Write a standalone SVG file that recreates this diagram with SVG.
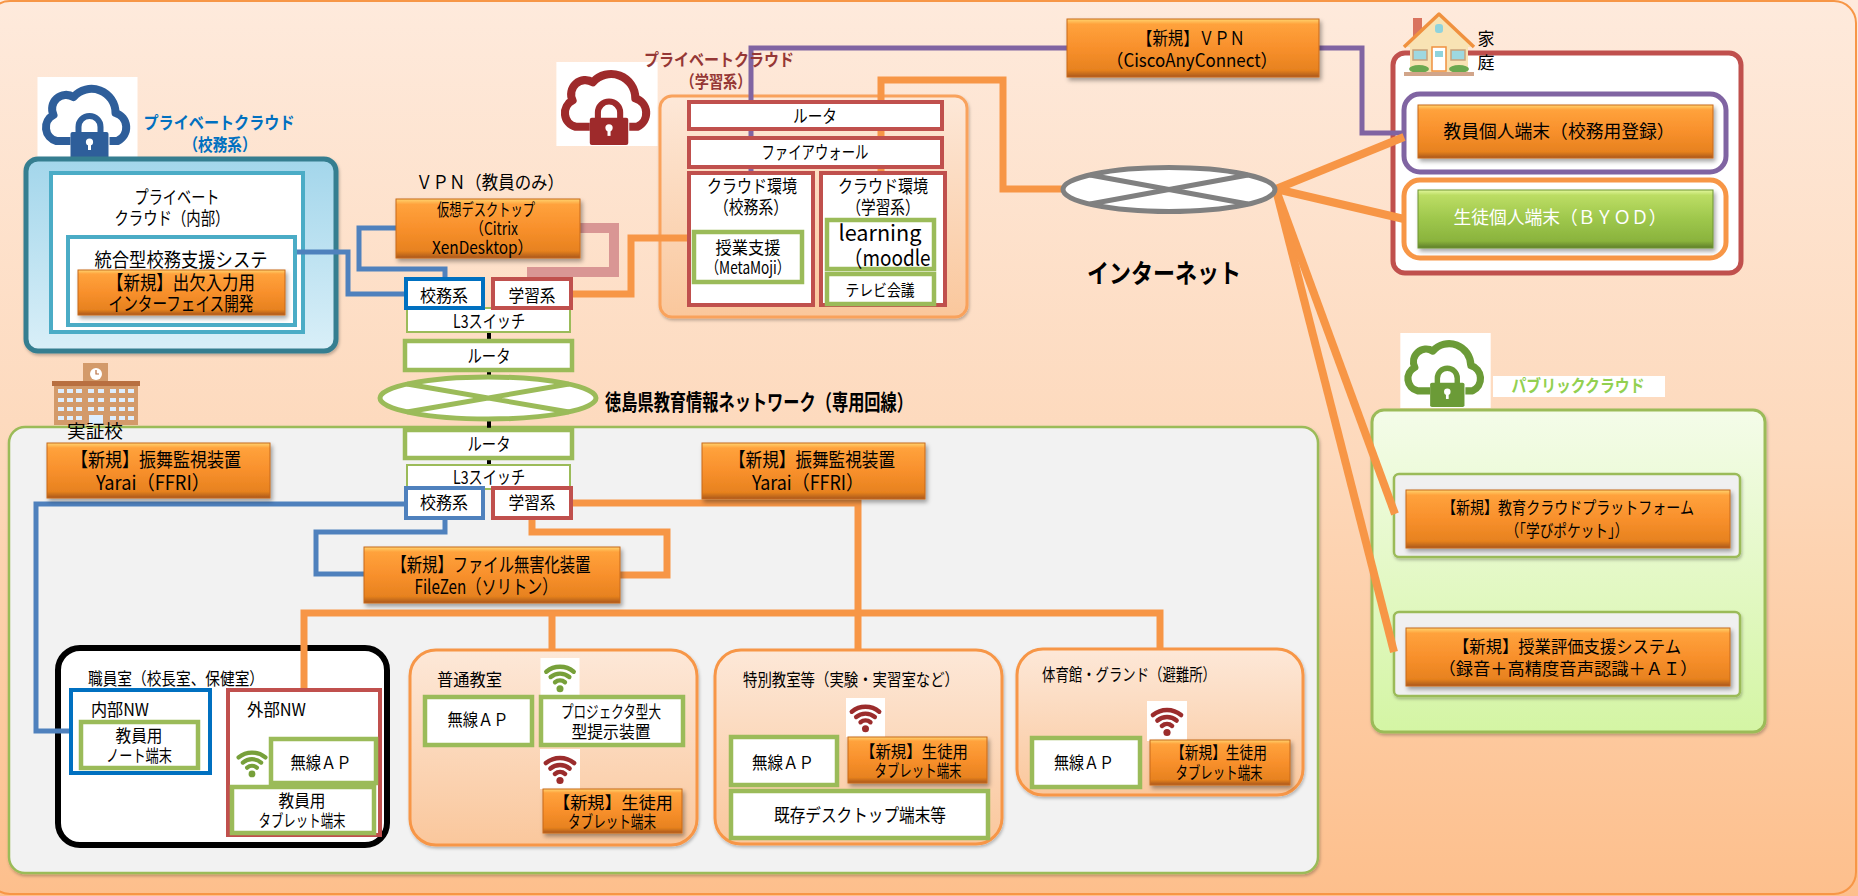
<svg xmlns="http://www.w3.org/2000/svg" width="1858" height="896" viewBox="0 0 1858 896">
<defs>
  <linearGradient id="gBg" x1="0" y1="0" x2="0" y2="1">
    <stop offset="0" stop-color="#FEEADC"/>
    <stop offset="0.5" stop-color="#FDD9BC"/>
    <stop offset="1" stop-color="#FDBF8C"/>
  </linearGradient>
  <linearGradient id="gOrange" x1="0" y1="0" x2="0" y2="1">
    <stop offset="0" stop-color="#FFD470"/>
    <stop offset="0.09" stop-color="#FFA23C"/>
    <stop offset="0.5" stop-color="#F8902C"/>
    <stop offset="0.88" stop-color="#E7821F"/>
    <stop offset="1" stop-color="#A9581D"/>
  </linearGradient>
  <linearGradient id="gGreen" x1="0" y1="0" x2="0" y2="1">
    <stop offset="0" stop-color="#E2F79C"/>
    <stop offset="0.09" stop-color="#BCDD64"/>
    <stop offset="0.5" stop-color="#9EC74C"/>
    <stop offset="0.88" stop-color="#8AB33D"/>
    <stop offset="1" stop-color="#5E7F2A"/>
  </linearGradient>
  <linearGradient id="gTeal" x1="0" y1="0" x2="0" y2="1">
    <stop offset="0" stop-color="#A3D6EB"/>
    <stop offset="1" stop-color="#D9EFF8"/>
  </linearGradient>
  <linearGradient id="gPeach" x1="0" y1="0" x2="0" y2="1">
    <stop offset="0" stop-color="#FDE8D8"/>
    <stop offset="1" stop-color="#FAC79C"/>
  </linearGradient>
  <linearGradient id="gPub" x1="0" y1="0" x2="0" y2="1">
    <stop offset="0" stop-color="#F4FCE9"/>
    <stop offset="1" stop-color="#D4F5A4"/>
  </linearGradient>
  <filter id="sh" x="-10%" y="-10%" width="125%" height="135%">
    <feDropShadow dx="2" dy="3" stdDeviation="2" flood-color="#000" flood-opacity="0.35"/>
  </filter>
  <filter id="shs" x="-10%" y="-10%" width="125%" height="135%">
    <feDropShadow dx="1" dy="2" stdDeviation="1.5" flood-color="#000" flood-opacity="0.25"/>
  </filter>
  <!-- cloud with padlock, coloured through currentColor -->
  <symbol id="cloudLock" viewBox="0 0 100 83">
    <rect width="100" height="83" fill="#fff"/>
    <path d="M33 64 H19 A14 14 0 0 1 16 38 A14 14 0 0 1 36 20 A24 24 0 0 1 78 36 A15 15 0 0 1 80 64 H72" fill="none" stroke="currentColor" stroke-width="8" stroke-linejoin="round"/>
    <path d="M41 57 V50 A11 11 0 0 1 63 50 V57" fill="none" stroke="currentColor" stroke-width="6"/>
    <rect x="33" y="55" width="38" height="27" rx="2" fill="currentColor"/>
    <circle cx="52" cy="65" r="3.6" fill="#fff"/>
    <rect x="50.5" y="65" width="3" height="8" fill="#fff"/>
  </symbol>
  <!-- wireless signal mark -->
  <symbol id="wifi" viewBox="0 0 40 40">
    <rect width="40" height="40" fill="#fff"/>
    <g fill="none" stroke="currentColor" stroke-width="4.5" stroke-linecap="round">
      <path d="M5.9 14.1 A22 22 0 0 1 34.1 14.1"/>
      <path d="M10.4 19.5 A15 15 0 0 1 29.6 19.5"/>
      <path d="M14.9 24.9 A8 8 0 0 1 25.1 24.9"/>
    </g>
    <circle cx="20" cy="31.5" r="3.6" fill="currentColor"/>
  </symbol>
</defs>
<style>
  text { font-family: "Noto Sans CJK JP", "Liberation Sans", sans-serif; fill: #000; font-size: 17px; }
  .m { text-anchor: middle; }
  .f17 { font-size: 18px; }
  .f18 { font-size: 19.5px; }
  .b { font-weight: bold; }
  .ob { fill: url(#gOrange); stroke: #C8691C; stroke-width: 1; filter: url(#sh); }
  .grb { fill: url(#gGreen); stroke: #6E9433; stroke-width: 1; filter: url(#sh); }
  .gb { fill: #fff; stroke: #9BBB59; stroke-width: 4.5; }
  .gt { fill: #fff; stroke: #9BBB59; stroke-width: 2; }
  .rb { fill: #fff; stroke: #C0504D; stroke-width: 4; }
  .bb { fill: #fff; stroke: #0070C0; stroke-width: 4; }
  .bl { fill: #fff; stroke: #4F81BD; stroke-width: 4; }
  .room { fill: url(#gPeach); stroke: #F79646; stroke-width: 3; filter: url(#shs); }
  .ln { fill: none; stroke-linejoin: miter; }
  .lb { stroke: #4F81BD; stroke-width: 5; }
  .lo { stroke: #F79646; stroke-width: 7; }
  .lp { stroke: #8064A2; stroke-width: 5; }
  .lk { stroke: #000; stroke-width: 4; }
</style>

<!-- page background -->
<rect x="0" y="0" width="1858" height="896" fill="url(#gBg)"/>
<rect x="-12" y="1" width="1868" height="893" rx="22" fill="none" stroke="#F79646" stroke-width="2"/>

<!-- containers -->
<g id="school-cloud">
  <use href="#cloudLock" x="37" y="77" width="101" height="83" color="#2E5E9A"/>
  <text class="m b" x="219" y="129" style="fill:#0070C0" textLength="151" lengthAdjust="spacingAndGlyphs">プライベートクラウド</text>
  <text class="m b" x="220" y="151" style="fill:#0070C0" textLength="73" lengthAdjust="spacingAndGlyphs">（校務系）</text>
  <rect x="26" y="159" width="310" height="192" rx="12" fill="url(#gTeal)" stroke="#367E90" stroke-width="5" filter="url(#shs)"/>
  <rect x="51" y="173" width="252" height="159" fill="#fff" stroke="#4BACC6" stroke-width="4"/>
  <text class="m f17" x="177" y="204" textLength="85" lengthAdjust="spacingAndGlyphs">プライベート</text>
  <text class="m f17" x="172" y="225" textLength="115" lengthAdjust="spacingAndGlyphs">クラウド（内部）</text>
</g>
<g id="learning-cloud">
  <use href="#cloudLock" x="556" y="62" width="102" height="84" color="#9E2A2B"/>
  <rect x="660" y="96" width="307" height="221" rx="12" fill="url(#gPeach)" stroke="#F9A25C" stroke-width="3" filter="url(#shs)"/>
</g>
<g id="public-cloud">
  <use href="#cloudLock" x="1399" y="333" width="93" height="75" color="#6B9B37"/>
  <rect x="1493" y="376" width="172" height="21" fill="#fff"/>
  <text class="m b" x="1578" y="392" style="fill:#92D050" textLength="133" lengthAdjust="spacingAndGlyphs">パブリッククラウド</text>
  <rect x="1372" y="410" width="393" height="322" rx="12" fill="url(#gPub)" stroke="#9BBB59" stroke-width="3" filter="url(#shs)"/>
  <rect x="1394" y="474" width="346" height="83" rx="5" fill="#F0F0F0" stroke="#9BBB59" stroke-width="2.5" filter="url(#shs)"/>
  <rect x="1394" y="612" width="346" height="84" rx="5" fill="#F0F0F0" stroke="#9BBB59" stroke-width="2.5" filter="url(#shs)"/>
</g>
<g id="home">
  <rect x="1393" y="53" width="348" height="220" rx="12" fill="#fff" stroke="#C0504D" stroke-width="5"/>
  <rect x="1404" y="94" width="322" height="78" rx="16" fill="#fff" stroke="#8064A2" stroke-width="5"/>
  <rect x="1404" y="180" width="322" height="78" rx="16" fill="#fff" stroke="#F79646" stroke-width="5"/>
  <!-- house -->
  <rect x="1413" y="18" width="9" height="24" fill="#D9735E"/>
  <rect x="1410" y="44" width="58" height="28" fill="#F8E3B4"/>
  <path d="M1404 47 L1439 14 L1474 47" fill="#F8E3B4" stroke="#F0913F" stroke-width="3.5" stroke-linejoin="round"/>
  <rect x="1435" y="24" width="8" height="9" rx="3" fill="#8FD3DC"/>
  <rect x="1413" y="50" width="14" height="10" fill="#9ED8E0" stroke="#C9A27A" stroke-width="1.5"/>
  <rect x="1451" y="50" width="14" height="10" fill="#9ED8E0" stroke="#C9A27A" stroke-width="1.5"/>
  <rect x="1432" y="47" width="14" height="24" fill="#fff" stroke="#F0913F" stroke-width="1.5"/>
  <rect x="1435" y="51" width="8" height="6" fill="#8FD3DC"/>
  <ellipse cx="1419" cy="69" rx="10" ry="4" fill="#6AA84F"/>
  <ellipse cx="1459" cy="69" rx="10" ry="4" fill="#6AA84F"/>
  <rect x="1404" y="72" width="70" height="4" fill="#D1A58A"/>
  <text x="1486" y="45" class="m">家</text>
  <text x="1486" y="69" class="m">庭</text>
</g>
<g id="school">
  <!-- building -->
  <rect x="83" y="363" width="25" height="21" fill="#D39A6A"/>
  <circle cx="96" cy="374" r="6" fill="#fff"/>
  <path d="M96 370 V374 H99" stroke="#B86F40" stroke-width="1.2" fill="none"/>
  <rect x="52" y="381" width="88" height="5" fill="#B86F40"/>
  <rect x="54" y="386" width="84" height="39" fill="#D39A6A"/>
  <g fill="#DDEEFF">
    <rect x="58" y="389" width="6" height="4"/><rect x="67" y="389" width="6" height="4"/><rect x="76" y="389" width="6" height="4"/>
    <rect x="88" y="389" width="6" height="4"/><rect x="98" y="389" width="6" height="4"/>
    <rect x="110" y="389" width="6" height="4"/><rect x="119" y="389" width="6" height="4"/><rect x="128" y="389" width="6" height="4"/>
    <rect x="58" y="398" width="6" height="4"/><rect x="67" y="398" width="6" height="4"/><rect x="76" y="398" width="6" height="4"/>
    <rect x="88" y="398" width="6" height="4"/><rect x="98" y="398" width="6" height="4"/>
    <rect x="110" y="398" width="6" height="4"/><rect x="119" y="398" width="6" height="4"/><rect x="128" y="398" width="6" height="4"/>
    <rect x="58" y="407" width="6" height="4"/><rect x="67" y="407" width="6" height="4"/><rect x="76" y="407" width="6" height="4"/>
    <rect x="88" y="407" width="6" height="4"/><rect x="98" y="407" width="6" height="4"/>
    <rect x="110" y="407" width="6" height="4"/><rect x="119" y="407" width="6" height="4"/><rect x="128" y="407" width="6" height="4"/>
    <rect x="58" y="416" width="6" height="4"/><rect x="67" y="416" width="6" height="4"/><rect x="76" y="416" width="6" height="4"/>
    <rect x="110" y="416" width="6" height="4"/><rect x="119" y="416" width="6" height="4"/><rect x="128" y="416" width="6" height="4"/>
    <rect x="89" y="415" width="14" height="10"/>
  </g>
  <rect x="9" y="427" width="1309" height="446" rx="16" fill="#F2F2F2" stroke="#9BBB59" stroke-width="2.5" filter="url(#shs)"/>
  <text class="m f17" x="95" y="438" textLength="56" lengthAdjust="spacingAndGlyphs">実証校</text>
</g>
<g id="staff-room">
  <rect x="58" y="648" width="329" height="197" rx="22" fill="#fff" stroke="#000" stroke-width="6"/>
  <text x="88" y="685" textLength="176" lengthAdjust="spacingAndGlyphs">職員室（校長室、保健室）</text>
</g>
<g id="room-normal"><rect class="room" x="410" y="650" width="287" height="195" rx="26"/>
  <text x="437" y="686" textLength="65" lengthAdjust="spacingAndGlyphs">普通教室</text></g>
<g id="room-special"><rect class="room" x="715" y="650" width="287" height="194" rx="26"/>
  <text x="743" y="686" textLength="216" lengthAdjust="spacingAndGlyphs">特別教室等（実験・実習室など）</text></g>
<g id="room-gym"><rect class="room" x="1017" y="649" width="286" height="146" rx="26"/>
  <text x="1042" y="681" textLength="174" lengthAdjust="spacingAndGlyphs">体育館・グランド（避難所）</text></g>

<!-- connectors -->
<g id="connectors" class="ln">
  <path class="ln lb" d="M295 252 H348 V294 H406"/>
  <path class="ln lb" d="M396 228 H359 V269 H445 V279"/>
  <path class="ln lb" d="M406 504 H36 V731 H71"/>
  <path class="ln lb" d="M445 518 V532 H316 V574 H364"/>
  <path class="ln" d="M580 228 H614 V272 H532 V279" stroke="#D99694" stroke-width="10"/>
  <path class="ln lo" d="M571 294 H631 V238 H694"/>
  <path class="ln lo" d="M881 173 V80 H1003 V189 H1064"/>
  <path class="ln lp" d="M1067 48 H751 V173"/>
  <path class="ln lp" d="M1319 48 H1362 V133 H1404"/>
  <path class="ln lo" d="M571 503 H858 V650"/>
  <path class="ln lo" d="M532 518 V532 H667 V575 H620"/>
  <path class="ln lo" d="M304 688 V613 H1160 V649"/>
  <path class="ln lo" d="M552 613 V650"/>
  <g stroke="#F79646" stroke-width="8">
    <line x1="1276" y1="189" x2="1404" y2="137"/>
    <line x1="1276" y1="189" x2="1404" y2="219"/>
    <line x1="1276" y1="190" x2="1395" y2="514"/>
    <line x1="1276" y1="190" x2="1394" y2="652"/>
  </g>
  <g class="lk">
    <line x1="489" y1="332" x2="489" y2="341"/>
    <line x1="489" y1="370" x2="489" y2="377"/>
    <line x1="489" y1="418" x2="489" y2="430"/>
    <line x1="489" y1="458" x2="489" y2="465"/>
  </g>
</g>

<!-- school administration cloud nodes -->
<g id="integrated-system">
  <rect x="68" y="237" width="227" height="88" fill="#fff" stroke="#4BACC6" stroke-width="4"/>
  <text class="m f18" x="181" y="267" textLength="173" lengthAdjust="spacingAndGlyphs">統合型校務支援システ</text>
</g>
<g id="attendance-if">
  <rect class="ob" x="78" y="270" width="207" height="45"/>
  <text class="m f18" x="181" y="290" textLength="148" lengthAdjust="spacingAndGlyphs">【新規】出欠入力用</text>
  <text class="m f18" x="181" y="311" textLength="145" lengthAdjust="spacingAndGlyphs">インターフェイス開発</text>
</g>

<!-- VPN / virtual desktop -->
<g id="vdi">
  <text class="m f17" x="490" y="189" textLength="148" lengthAdjust="spacingAndGlyphs">ＶＰＮ（教員のみ）</text>
  <rect class="ob" x="396" y="199" width="184" height="59"/>
  <text x="437" y="216" textLength="98" lengthAdjust="spacingAndGlyphs">仮想デスクトップ</text>
  <text x="470" y="235" textLength="48" lengthAdjust="spacingAndGlyphs">（Citrix</text>
  <text x="432" y="254" textLength="101" lengthAdjust="spacingAndGlyphs">XenDesktop）</text>
</g>

<!-- central upper stack -->
<g id="upper-l3">
  <rect class="gt" x="407" y="308" width="163" height="24"/>
  <text class="m f17" x="489" y="328" textLength="72" lengthAdjust="spacingAndGlyphs">L3スイッチ</text>
</g>
<g id="upper-admin"><rect class="bb" x="406" y="279" width="77" height="29"/>
  <text class="m" x="444" y="302" textLength="48" lengthAdjust="spacingAndGlyphs">校務系</text></g>
<g id="upper-learn"><rect class="rb" x="493" y="279" width="78" height="29"/>
  <text class="m" x="532" y="302" textLength="47" lengthAdjust="spacingAndGlyphs">学習系</text></g>
<g id="upper-router"><rect class="gb" x="405" y="341" width="167" height="29"/>
  <text class="m f17" x="489" y="363" textLength="43" lengthAdjust="spacingAndGlyphs">ルータ</text></g>
<g id="pref-network">
  <ellipse cx="488" cy="398" rx="108" ry="21" fill="#fff" stroke="#9BBB59" stroke-width="5"/>
  <path d="M407 384 Q488 398 569 412 M407 412 Q488 398 569 384" fill="none" stroke="#9BBB59" stroke-width="5"/>
  <text class="b" x="605" y="410" style="font-size:22px" textLength="308" lengthAdjust="spacingAndGlyphs">徳島県教育情報ネットワーク（専用回線）</text>
</g>
<g id="lower-router"><rect class="gb" x="405" y="430" width="167" height="28"/>
  <text class="m f17" x="489" y="451" textLength="43" lengthAdjust="spacingAndGlyphs">ルータ</text></g>
<g id="lower-l3"><rect class="gt" x="407" y="465" width="163" height="24"/>
  <text class="m f17" x="489" y="484" textLength="72" lengthAdjust="spacingAndGlyphs">L3スイッチ</text></g>
<g id="lower-admin"><rect class="bl" x="406" y="488" width="77" height="30"/>
  <text class="m" x="444" y="509" textLength="48" lengthAdjust="spacingAndGlyphs">校務系</text></g>
<g id="lower-learn"><rect class="rb" x="493" y="488" width="78" height="30"/>
  <text class="m" x="532" y="509" textLength="47" lengthAdjust="spacingAndGlyphs">学習系</text></g>

<!-- learning cloud inner nodes -->
<g id="learning-cloud-label">
  <text class="m b" x="719" y="66" style="fill:#953735" textLength="150" lengthAdjust="spacingAndGlyphs">プライベートクラウド</text>
  <text class="m b" x="716" y="88" style="fill:#953735" textLength="71" lengthAdjust="spacingAndGlyphs">（学習系）</text>
</g>
<g id="cloud-router"><rect class="rb" x="689" y="102" width="253" height="27"/>
  <text class="m f17" x="815" y="123" textLength="44" lengthAdjust="spacingAndGlyphs">ルータ</text></g>
<g id="cloud-firewall"><rect class="rb" x="689" y="138" width="253" height="29"/>
  <text class="m f17" x="815" y="159" textLength="107" lengthAdjust="spacingAndGlyphs">ファイアウォール</text></g>
<g id="env-admin"><rect class="rb" x="689" y="173" width="124" height="132"/>
  <text class="m f17" x="752" y="193" textLength="90" lengthAdjust="spacingAndGlyphs">クラウド環境</text>
  <text class="m f17" x="751" y="214" textLength="74" lengthAdjust="spacingAndGlyphs">（校務系）</text></g>
<g id="env-learn"><rect class="rb" x="821" y="173" width="124" height="132"/>
  <text class="m f17" x="883" y="193" textLength="90" lengthAdjust="spacingAndGlyphs">クラウド環境</text>
  <text class="m f17" x="883" y="214" textLength="73" lengthAdjust="spacingAndGlyphs">（学習系）</text></g>
<g id="metamoji"><rect class="gb" x="694" y="232" width="108" height="50"/>
  <text class="m" x="748" y="254" textLength="65" lengthAdjust="spacingAndGlyphs">授業支援</text>
  <text class="m" x="748" y="274" textLength="85" lengthAdjust="spacingAndGlyphs">（MetaMoji）</text></g>
<g id="moodle"><rect class="gb" x="827" y="220" width="107" height="49"/>
  <text class="m" x="880" y="241" style="font-size:22px" textLength="83" lengthAdjust="spacingAndGlyphs">learning</text>
  <text class="m" x="887" y="266" style="font-size:22px" textLength="87" lengthAdjust="spacingAndGlyphs">（moodle</text></g>
<g id="tv-meeting"><rect class="gb" x="827" y="274" width="107" height="30"/>
  <text class="m" x="880" y="296" style="font-size:16px" textLength="69" lengthAdjust="spacingAndGlyphs">テレビ会議</text></g>

<!-- internet -->
<g id="internet">
  <ellipse cx="1169" cy="189.5" rx="106" ry="22" fill="#fff" stroke="#808080" stroke-width="5"/>
  <path d="M1090 175 Q1169 189.5 1248 204 M1090 204 Q1169 189.5 1248 175" fill="none" stroke="#808080" stroke-width="5"/>
  <text class="m b" x="1164" y="283" style="font-size:26px" textLength="154" lengthAdjust="spacingAndGlyphs">インターネット</text>
</g>
<g id="vpn-new">
  <rect class="ob" x="1067" y="19" width="252" height="58"/>
  <text class="m f17" x="1191" y="45" textLength="108" lengthAdjust="spacingAndGlyphs">【新規】ＶＰＮ</text>
  <text class="m f17" x="1192" y="67" textLength="171" lengthAdjust="spacingAndGlyphs">（CiscoAnyConnect）</text>
</g>
<g id="teacher-device">
  <rect class="ob" x="1418" y="105" width="295" height="53"/>
  <text class="m f17" x="1559" y="138" textLength="231" lengthAdjust="spacingAndGlyphs">教員個人端末（校務用登録）</text>
</g>
<g id="student-byod">
  <rect class="grb" x="1418" y="190" width="295" height="58"/>
  <text class="m f17" x="1560" y="224" style="fill:#fff" textLength="213" lengthAdjust="spacingAndGlyphs">生徒個人端末（ＢＹＯＤ）</text>
</g>
<g id="manabi-pocket">
  <rect class="ob" x="1406" y="490" width="324" height="58"/>
  <text class="m" x="1568" y="514" textLength="252" lengthAdjust="spacingAndGlyphs">【新規】教育クラウドプラットフォーム</text>
  <text class="m" x="1567" y="537" textLength="123" lengthAdjust="spacingAndGlyphs">（「学びポケット」）</text>
</g>
<g id="lesson-eval">
  <rect class="ob" x="1406" y="628" width="324" height="58"/>
  <text class="m" x="1567" y="653" textLength="228" lengthAdjust="spacingAndGlyphs">【新規】授業評価支援システム</text>
  <text class="m" x="1568" y="675" textLength="259" lengthAdjust="spacingAndGlyphs">（録音＋高精度音声認識＋ＡＩ）</text>
</g>

<!-- school network nodes -->
<g id="yarai-admin">
  <rect class="ob" x="47" y="443" width="223" height="55"/>
  <text class="m f18" x="156" y="467" textLength="170" lengthAdjust="spacingAndGlyphs">【新規】振舞監視装置</text>
  <text class="m f18" x="153" y="490" textLength="114" lengthAdjust="spacingAndGlyphs">Yarai（FFRI）</text>
</g>
<g id="yarai-learn">
  <rect class="ob" x="702" y="443" width="223" height="56"/>
  <text class="m f18" x="812" y="467" textLength="166" lengthAdjust="spacingAndGlyphs">【新規】振舞監視装置</text>
  <text class="m f18" x="808" y="490" textLength="112" lengthAdjust="spacingAndGlyphs">Yarai（FFRI）</text>
</g>
<g id="filezen">
  <rect class="ob" x="364" y="547" width="256" height="56"/>
  <text class="m f18" x="491" y="572" textLength="199" lengthAdjust="spacingAndGlyphs">【新規】ファイル無害化装置</text>
  <text class="m f18" x="486" y="594" textLength="143" lengthAdjust="spacingAndGlyphs">FileZen（ソリトン）</text>
</g>
<g id="internal-nw">
  <rect class="bb" x="71" y="690" width="139" height="83"/>
  <text x="91" y="716" textLength="58" lengthAdjust="spacingAndGlyphs">内部NW</text>
  <rect class="gb" x="81" y="722" width="117" height="46"/>
  <text class="m" x="139" y="742" textLength="47" lengthAdjust="spacingAndGlyphs">教員用</text>
  <text class="m" x="139" y="762" textLength="66" lengthAdjust="spacingAndGlyphs">ノート端末</text>
</g>
<g id="external-nw">
  <rect class="rb" x="228" y="690" width="152" height="145"/>
  <text x="247" y="716" textLength="59" lengthAdjust="spacingAndGlyphs">外部NW</text>
  <use href="#wifi" x="233" y="743" width="38" height="40" color="#77A03A"/>
  <rect class="gb" x="271" y="739" width="105" height="44"/>
  <text class="m" x="321" y="769" textLength="61" lengthAdjust="spacingAndGlyphs">無線ＡＰ</text>
  <rect class="gb" x="232" y="787" width="142" height="46"/>
  <text class="m" x="302" y="807" textLength="47" lengthAdjust="spacingAndGlyphs">教員用</text>
  <text class="m" x="302" y="827" textLength="87" lengthAdjust="spacingAndGlyphs">タブレット端末</text>
</g>
<g id="normal-devices">
  <rect class="gb" x="425" y="697" width="107" height="48"/>
  <text class="m" x="478" y="726" textLength="61" lengthAdjust="spacingAndGlyphs">無線ＡＰ</text>
  <use href="#wifi" x="540" y="658" width="40" height="39" color="#77A03A"/>
  <rect class="gb" x="541" y="697" width="142" height="48"/>
  <text class="m" x="611" y="718" textLength="100" lengthAdjust="spacingAndGlyphs">プロジェクタ型大</text>
  <text class="m" x="611" y="738" textLength="79" lengthAdjust="spacingAndGlyphs">型提示装置</text>
  <use href="#wifi" x="540" y="749" width="40" height="40" color="#9B2C2C"/>
  <rect class="ob" x="543" y="789" width="139" height="44"/>
  <text class="m" x="613" y="809" textLength="120" lengthAdjust="spacingAndGlyphs">【新規】生徒用</text>
  <text class="m" x="612" y="828" textLength="88" lengthAdjust="spacingAndGlyphs">タブレット端末</text>
</g>
<g id="special-devices">
  <use href="#wifi" x="846" y="698" width="39" height="39" color="#9B2C2C"/>
  <rect class="gb" x="731" y="737" width="106" height="48"/>
  <text class="m" x="783" y="769" textLength="62" lengthAdjust="spacingAndGlyphs">無線ＡＰ</text>
  <rect class="ob" x="848" y="737" width="139" height="46"/>
  <text class="m" x="914" y="758" textLength="108" lengthAdjust="spacingAndGlyphs">【新規】生徒用</text>
  <text class="m" x="918" y="777" textLength="87" lengthAdjust="spacingAndGlyphs">タブレット端末</text>
  <rect class="gb" x="731" y="791" width="257" height="47"/>
  <text class="m f17" x="860" y="822" textLength="172" lengthAdjust="spacingAndGlyphs">既存デスクトップ端末等</text>
</g>
<g id="gym-devices">
  <use href="#wifi" x="1147" y="701" width="40" height="40" color="#9B2C2C"/>
  <rect class="gb" x="1032" y="738" width="108" height="49"/>
  <text class="m" x="1084" y="769" textLength="60" lengthAdjust="spacingAndGlyphs">無線ＡＰ</text>
  <rect class="ob" x="1150" y="740" width="140" height="45"/>
  <text class="m" x="1219" y="759" textLength="96" lengthAdjust="spacingAndGlyphs">【新規】生徒用</text>
  <text class="m" x="1219" y="779" textLength="87" lengthAdjust="spacingAndGlyphs">タブレット端末</text>
</g>
</svg>
